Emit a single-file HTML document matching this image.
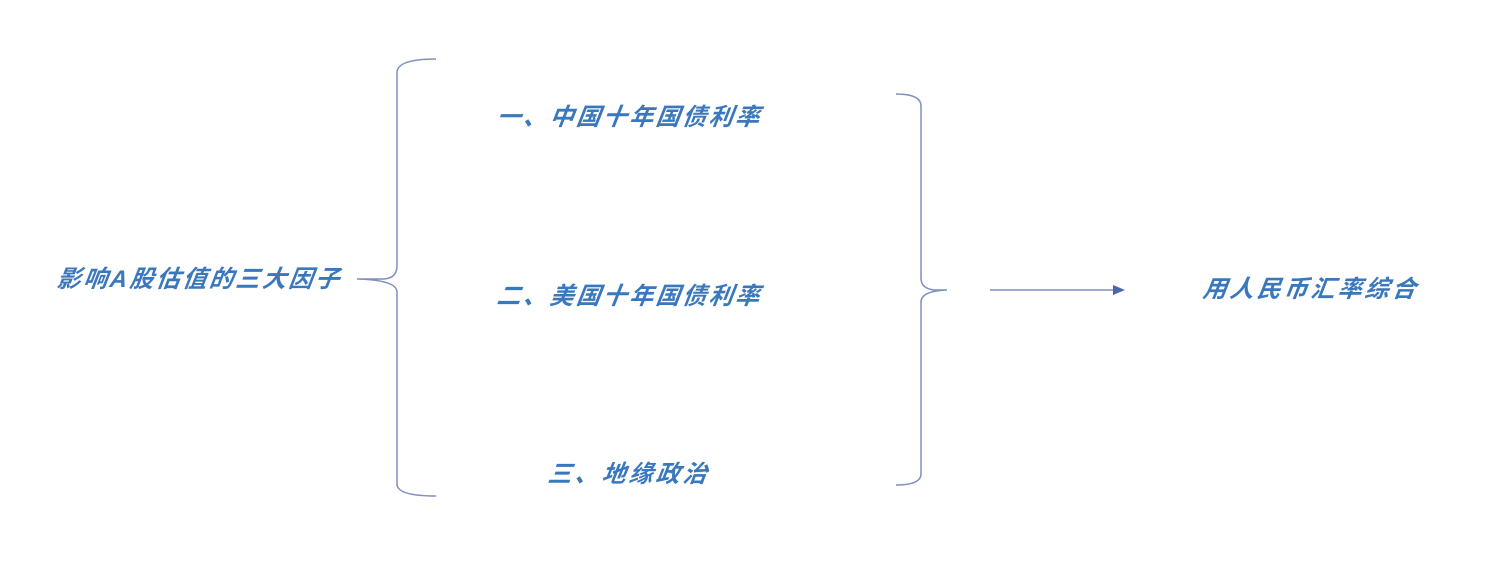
<!DOCTYPE html>
<html><head><meta charset="utf-8"><style>
body{margin:0;width:1504px;height:574px;background:#fff;overflow:hidden;position:relative}
.t{position:absolute;font-family:"Liberation Sans","Noto Sans CJK SC",sans-serif;font-style:italic;font-weight:bold;color:#3a78bd;font-size:24px;line-height:26px;white-space:nowrap;transform:skewX(-8deg)}
</style></head><body>
<svg width="1504" height="574" style="position:absolute;left:0;top:0">
<g fill="none" stroke="#7f8fbf" stroke-width="1.5">
<path d="M436 59 Q398 59 397 72 L397 266 Q397 278 384 279 L357 279 Q397 280 397 292 L397 484 Q397 496 436 496"/>
<path d="M896 94 Q921 94 921 106 L921 278 Q921 289 935 290 L947 290 Q921 291 921 302 L921 474 Q921 485 896 485"/>
<path d="M990 290 L1115 290"/>
</g>
<path d="M1113 285 L1125 290 L1113 295 Z" fill="#4a67b0"/>
</svg>
<div class="t" style="left:57px;top:267px;letter-spacing:2.5px">影响A股估值的三大因子</div>
<div class="t" style="left:497px;top:105px;letter-spacing:2.5px">一、中国十年国债利率</div>
<div class="t" style="left:497px;top:284px;letter-spacing:2.5px">二、美国十年国债利率</div>
<div class="t" style="left:548px;top:462px;letter-spacing:3px">三、地缘政治</div>
<div class="t" style="left:1203px;top:277px;letter-spacing:3px">用人民币汇率综合</div>
</body></html>
